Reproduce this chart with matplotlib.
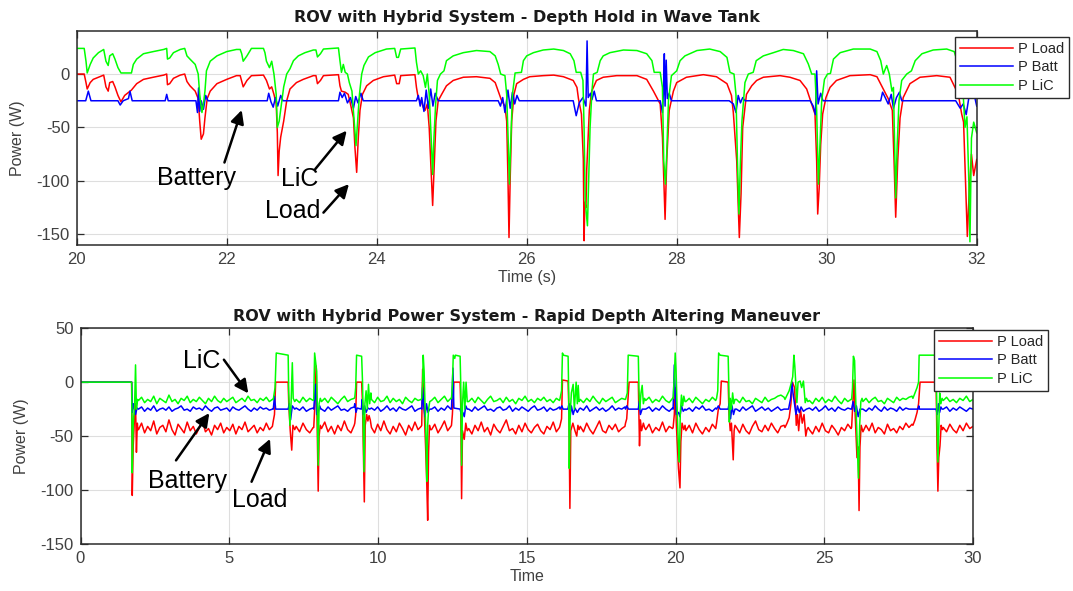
import numpy as np
import matplotlib
matplotlib.use("Agg")
import matplotlib.pyplot as plt

plt.rcParams['font.family'] = ['Liberation Sans', 'DejaVu Sans']
plt.rcParams['axes.unicode_minus'] = False

# ---------------- data: top chart (depth hold in wave tank) ----------------
top_load = [
    (20.00, 0), (20.10, 0), (20.124, -8), (20.14, -14), (20.18, -8), (20.22, -5), (20.29, -3), (20.36, -1),
    (20.39, -12), (20.42, -16), (20.44, -8), (20.48, -7), (20.51, -12), (20.55, -20), (20.59, -26), (20.64, -20),
    (20.73, -15), (20.80, -9), (20.89, -5), (21.02, -3), (21.16, -1), (21.20, 0), (21.21, -10), (21.24, -9),
    (21.29, -4), (21.38, -1), (21.44, 0), (21.47, -7), (21.51, -11), (21.58, -16), (21.62, -23), (21.64, -44),
    (21.66, -61), (21.69, -56), (21.71, -41), (21.74, -23), (21.78, -16), (21.87, -9), (22.00, -5), (22.13, -1.5),
    (22.18, -1.5), (22.22, -12), (22.27, -6), (22.33, -1.5), (22.49, -1), (22.53, -6), (22.57, -14), (22.60, -12),
    (22.63, -19), (22.66, -28), (22.675, -55), (22.685, -95), (22.70, -72), (22.72, -59), (22.76, -44), (22.80, -25),
    (22.844, -14), (22.93, -8), (23.02, -5), (23.155, -1.5), (23.19, -1.5), (23.21, -9), (23.25, -6), (23.29, -1.5),
    (23.49, -0.6), (23.51, -11), (23.53, -16), (23.58, -17), (23.62, -19), (23.65, -28), (23.69, -41), (23.71, -69),
    (23.733, -92), (23.755, -59), (23.777, -34), (23.81, -19), (23.866, -11), (23.955, -6), (24.09, -2.5), (24.24, -1),
    (24.266, -9), (24.30, -9), (24.32, -1.5), (24.51, -0.6), (24.53, -12.5), (24.555, -23), (24.60, -26.5), (24.62, -31),
    (24.645, -34), (24.675, -28), (24.70, -50), (24.73, -97), (24.746, -123), (24.77, -81), (24.79, -44), (24.82, -25),
    (24.866, -19), (24.93, -11), (25.02, -6), (25.155, -3), (25.33, -2.5), (25.51, -4), (25.58, -8), (25.62, -16),
    (25.666, -25), (25.71, -30), (25.733, -44), (25.75, -97), (25.764, -153), (25.78, -97), (25.80, -44), (25.83, -19),
    (25.866, -9), (25.956, -5), (26.04, -2.5), (26.22, -1.5), (26.36, -1), (26.49, -2.5), (26.62, -6), (26.67, -12.5),
    (26.69, -23), (26.73, -37.5), (26.755, -80), (26.765, -156), (26.775, -120), (26.79, -125), (26.80, -90), (26.835, -34),
    (26.867, -16), (26.93, -6), (27.02, -3), (27.20, -1.5), (27.47, -1.5), (27.60, -5), (27.69, -16), (27.78, -28),
    (27.81, -59), (27.83, -103), (27.845, -136), (27.867, -81), (27.90, -34), (27.956, -16), (28.0, -8), (28.13, -3),
    (28.355, -0.6), (28.53, -2.5), (28.67, -9), (28.73, -20), (28.755, -36), (28.80, -81), (28.835, -153), (28.858, -112),
    (28.88, -50), (28.93, -19), (29.0, -11), (29.066, -6), (29.155, -3), (29.378, -1.5), (29.51, -3), (29.644, -6),
    (29.733, -14), (29.80, -28), (29.844, -37.5), (29.866, -81), (29.88, -131), (29.90, -106), (29.92, -66), (29.946, -37.5),
    (29.99, -22), (30.044, -12.5), (30.13, -6), (30.31, -1.5), (30.58, -0.6), (30.67, -2.5), (30.755, -14), (30.82, -23),
    (30.875, -34), (30.898, -81), (30.92, -134), (30.947, -81), (30.978, -41), (31.02, -22), (31.11, -9), (31.244, -3),
    (31.467, -1.5), (31.644, -3), (31.755, -19), (31.80, -37.5), (31.825, -45), (31.85, -100), (31.875, -152), (31.90, -110),
    (31.93, -75), (31.96, -95), (32.0, -80),
]

top_batt = [
    (20.00, -25), (20.12, -25), (20.155, -16), (20.19, -25), (20.55, -25), (20.58, -29), (20.62, -25), (20.69, -23),
    (20.71, -16), (20.74, -25), (21.18, -25), (21.20, -19), (21.22, -25), (21.59, -25), (21.61, -36), (21.625, -13),
    (21.64, -35), (21.66, -25), (21.69, -33), (21.72, -20), (21.75, -25), (22.54, -25), (22.56, -18), (22.59, -26),
    (22.62, -31), (22.65, -22), (22.68, -30), (22.72, -20), (22.75, -25), (23.49, -25), (23.51, -17), (23.54, -22),
    (23.57, -18), (23.61, -27), (23.65, -22), (23.69, -32), (23.72, -21), (23.75, -27), (23.79, -18), (23.82, -25),
    (24.53, -25), (24.555, -20), (24.58, -30), (24.60, -22), (24.63, -35), (24.66, -15), (24.69, -32), (24.72, -14),
    (24.75, -30), (24.78, -18), (24.82, -25), (25.62, -25), (25.65, -30), (25.68, -22), (25.71, -36), (25.75, -15),
    (25.78, -32), (25.81, -17), (25.84, -28), (25.87, -20), (25.90, -25), (26.62, -25), (26.66, -39), (26.70, -27),
    (26.75, -22), (26.79, -30), (26.805, 31), (26.82, -22), (26.85, -18), (26.87, -24), (26.90, -16), (26.93, -25),
    (27.78, -25), (27.81, -36), (27.825, -15), (27.835, 19), (27.845, -30), (27.86, 13), (27.875, -23), (27.90, -18),
    (27.93, -25), (28.70, -25), (28.755, -28), (28.79, -36), (28.82, -20), (28.85, -27), (28.88, -22), (28.91, -25),
    (29.78, -25), (29.82, -30), (29.85, -38), (29.866, 3), (29.885, -28), (29.92, -18), (29.95, -25), (30.72, -25),
    (30.745, -17), (30.78, -22), (30.82, -28), (30.86, -19), (30.89, -32), (30.93, -22), (30.97, -17), (31.0, -25),
    (31.72, -25), (31.78, -32), (31.82, -28), (31.86, -38), (31.90, -20), (31.95, -14), (32.0, -30),
]

top_lic = [
    (20.00, 24), (20.10, 24), (20.124, 12), (20.14, 1), (20.18, 9), (20.22, 15), (20.29, 20), (20.36, 23),
    (20.39, 12), (20.42, 8), (20.44, 17), (20.48, 19), (20.51, 14), (20.55, 6), (20.59, 1), (20.73, 1),
    (20.755, 9), (20.80, 14), (20.89, 19), (21.02, 21), (21.16, 23), (21.20, 24), (21.21, 14), (21.24, 15),
    (21.29, 20), (21.38, 23), (21.44, 24), (21.47, 17), (21.51, 14), (21.58, 9), (21.62, 0), (21.64, -19),
    (21.67, -36), (21.69, -28), (21.71, -16), (21.73, 3), (21.78, 12), (21.87, 17), (22.00, 21), (22.13, 23),
    (22.18, 23), (22.20, 19), (22.22, 12), (22.27, 17), (22.33, 24), (22.49, 24), (22.51, 20), (22.53, 12),
    (22.57, 6), (22.60, 12), (22.63, 0), (22.66, -19), (22.675, -50), (22.70, -44), (22.73, -28), (22.76, -12),
    (22.80, 0), (22.844, 5), (22.89, 12.5), (22.955, 17), (23.044, 20), (23.155, 22.5), (23.19, 22.5), (23.21, 16),
    (23.25, 19), (23.29, 23.4), (23.49, 24.4), (23.51, 12.5), (23.53, 1.6), (23.555, 9), (23.58, 1.6), (23.61, 0),
    (23.635, -8), (23.67, -16), (23.70, -44), (23.724, -67), (23.746, -44), (23.77, -19), (23.80, 0), (23.83, 8),
    (23.89, 16), (23.98, 20), (24.13, 23.4), (24.24, 24), (24.266, 15.6), (24.29, 15.6), (24.32, 23.4), (24.51, 24.4),
    (24.53, 11), (24.555, 0), (24.586, 3), (24.62, -1.5), (24.65, -12.5), (24.675, 0), (24.70, -19), (24.73, -66),
    (24.746, -94), (24.764, -59), (24.786, -28), (24.81, -6), (24.85, 0), (24.897, 3), (24.93, 12.5), (25.02, 17),
    (25.155, 20), (25.33, 22), (25.51, 21), (25.58, 17), (25.62, 9), (25.653, 0), (25.71, -1.5), (25.733, -19),
    (25.755, -66), (25.77, -103), (25.786, -66), (25.81, -19), (25.845, 1), (25.93, 1.6), (25.956, 12.5), (26.0, 17),
    (26.09, 20), (26.22, 22.5), (26.36, 23.4), (26.49, 22), (26.58, 19), (26.63, 12.5), (26.66, 1.6), (26.72, 1.6),
    (26.75, -6), (26.765, -50), (26.78, -119), (26.81, -142), (26.827, -97), (26.845, -50), (26.87, -16), (26.89, 0),
    (26.94, 1.6), (26.98, 12.5), (27.02, 17), (27.11, 20), (27.29, 22.5), (27.47, 22), (27.60, 19), (27.67, 12.5),
    (27.70, 1.6), (27.78, 1.6), (27.81, -12.5), (27.827, -81), (27.85, -103), (27.867, -75), (27.89, -25), (27.93, -1.5),
    (28.0, 3), (28.045, 12.5), (28.11, 17), (28.27, 22), (28.44, 23.4), (28.58, 21), (28.67, 15.6), (28.71, 1.6),
    (28.764, 0), (28.79, -19), (28.81, -81), (28.83, -131), (28.85, -81), (28.87, -44), (28.91, -8), (28.955, 0),
    (29.02, 1.6), (29.06, 12.5), (29.155, 17), (29.29, 20), (29.42, 23), (29.555, 22), (29.69, 19), (29.755, 9.4),
    (29.80, 0), (29.844, 0), (29.866, -34), (29.89, -103), (29.91, -66), (29.933, -25), (29.97, -5), (30.01, 0),
    (30.05, 0.6), (30.09, 14), (30.18, 20), (30.355, 23.4), (30.58, 23.4), (30.67, 21), (30.72, 12.5), (30.755, 0),
    (30.80, 8), (30.835, 0), (30.87, -16), (30.89, -12.5), (30.906, -66), (30.92, -116), (30.94, -66), (30.964, -25),
    (31.0, -6), (31.067, 0), (31.13, 3), (31.18, 12.5), (31.27, 19), (31.42, 22.5), (31.60, 23.4), (31.70, 21),
    (31.755, 9), (31.787, 0), (31.82, -19), (31.844, -50), (31.87, -40), (31.895, -100), (31.91, -157), (31.93, -60),
    (31.96, -45), (32.0, -55),
]

# ---------------- data: bottom chart (rapid depth altering maneuver) ----------------
bot_segments = [(1.95, 6.45), (7.25, 7.82), (8.1, 9.2), (9.78, 11.45), (11.8, 12.45), (13.05, 16.1),
                (16.8, 18.3), (19.0, 19.9), (20.35, 21.35), (22.05, 23.65), (24.5, 25.9), (26.3, 27.95),
                (29.0, 30.0)]

bot_load_events = [
    (0, 0), (1.72, 0), (1.74, -105), (1.77, -60), (1.82, -30), (1.85, -20), (1.88, -65), (1.91, -38), (1.93, -44),
    (6.48, -36), (6.52, -30), (6.56, 0), (6.98, 0), (7.0, -20), (7.05, -45), (7.1, -63), (7.14, -40), (7.2, -44),
    (7.84, -42), (7.88, -20), (7.92, 15), (7.95, -30), (7.99, -101), (8.02, -50), (8.06, -40),
    (9.22, -38), (9.25, -30), (9.28, 0), (9.45, 0), (9.48, -20), (9.52, -80), (9.54, -111), (9.57, -40), (9.62, -30),
    (9.66, -36), (9.7, -31), (9.74, -35),
    (11.47, -40), (11.5, 12), (11.53, -10), (11.6, -60), (11.64, -95), (11.67, -128), (11.7, -65), (11.73, -40), (11.76, -44),
    (12.47, -40), (12.5, -30), (12.55, 0), (12.76, 0), (12.78, -20), (12.81, -108), (12.84, -45), (12.9, -53), (12.95, -38), (13.0, -45),
    (16.12, -40), (16.17, -34), (16.2, 2), (16.39, 1), (16.42, -30), (16.45, -117), (16.48, -45), (16.55, -38), (16.62, -45),
    (16.68, -50), (16.72, -40), (16.76, -44),
    (18.32, -38), (18.36, -34), (18.44, 0), (18.75, 0), (18.77, -30), (18.79, -59), (18.82, -35), (18.86, -45), (18.92, -38), (18.96, -42),
    (19.92, -42), (19.96, -30), (19.99, -5), (20.03, -40), (20.1, -80), (20.15, -98), (20.18, -55), (20.22, -38), (20.28, -44), (20.32, -40),
    (21.38, -38), (21.44, -25), (21.5, -20), (21.54, 1), (21.77, 0), (21.8, -30), (21.84, -45), (21.88, -38), (21.91, -55),
    (21.94, -72), (21.97, -45), (22.0, -40),
    (23.68, -42), (23.75, -38), (23.82, -33), (23.88, -20), (23.93, 0), (24.0, -5), (24.03, -20), (24.06, -40), (24.1, -30),
    (24.14, -45), (24.2, -25), (24.26, -38), (24.32, -30), (24.38, -50), (24.42, -44), (24.46, -42),
    (25.92, -42), (25.96, -20), (26.0, 2), (26.04, -30), (26.1, -70), (26.14, -60), (26.17, -119), (26.2, -60), (26.24, -40), (26.27, -43),
    (27.98, -40), (28.05, -35), (28.12, -28), (28.17, -20), (28.22, 0), (28.76, 0), (28.79, -60), (28.82, -101), (28.85, -70),
    (28.89, -59), (28.93, -40), (28.97, -44),
]

bot_batt_events = [
    (0, 0), (1.72, 0), (1.74, -28), (1.78, -20), (1.85, -30), (1.9, -24),
    (6.48, -25), (6.52, -13), (6.56, -25), (6.98, -25), (7.02, -20), (7.06, -35), (7.12, -22), (7.2, -25),
    (7.84, -25), (7.9, -2), (7.94, -30), (7.99, -28), (8.04, -22), (8.08, -25),
    (9.22, -20), (9.26, -28), (9.3, -24), (9.44, -25), (9.47, -16), (9.5, -30), (9.55, -22), (9.6, -28), (9.66, -24), (9.72, -25),
    (11.47, -25), (11.5, -5), (11.53, -20), (11.58, -32), (11.63, -20), (11.68, -28), (11.74, -25),
    (12.47, -25), (12.52, 13), (12.55, -24), (12.76, -25), (12.8, -30), (12.85, -28), (12.9, -32), (12.95, -22), (13.0, -25),
    (16.12, -25), (16.18, -22), (16.22, -25), (16.38, -25), (16.42, -20), (16.45, -34), (16.5, -22), (16.56, -30), (16.62, -24),
    (16.7, -28), (16.76, -25),
    (18.32, -25), (18.36, -22), (18.42, -25), (18.75, -25), (18.78, -18), (18.82, -30), (18.88, -25),
    (19.92, -25), (19.96, 16), (19.99, -10), (20.03, -30), (20.1, -28), (20.15, -32), (20.2, -22), (20.26, -27), (20.32, -25),
    (21.38, -25), (21.44, -22), (21.5, -25), (21.77, -25), (21.8, -20), (21.85, -34), (21.9, -22), (21.95, -30), (22.0, -25),
    (23.68, -25), (23.8, -25), (23.87, -15), (23.91, 0), (23.95, -10), (24.0, -20), (24.05, -30), (24.1, -22), (24.16, -28),
    (24.22, -23), (24.3, -27), (24.4, -25),
    (25.92, -25), (25.97, -18), (26.02, -27), (26.08, -22), (26.14, -32), (26.2, -25),
    (27.98, -25), (28.15, -25), (28.18, -22), (28.2, -25), (28.76, -25), (28.8, -30), (28.84, -20), (28.88, -28), (28.92, -23), (28.96, -25),
]

bot_lic_events = [
    (0, 0), (1.72, 0), (1.74, -84), (1.77, -40), (1.82, -20), (1.85, 16), (1.88, -25), (1.92, -16),
    (6.48, -16), (6.54, -5), (6.58, 27), (6.98, 25), (7.0, -10), (7.04, -40), (7.08, -18), (7.12, 18), (7.15, -15), (7.2, -18),
    (7.84, -16), (7.87, 27), (7.9, 20), (7.94, 10), (7.97, -40), (7.99, -77), (8.02, -20), (8.06, -15),
    (9.22, -14), (9.25, -5), (9.28, 25), (9.45, 24), (9.48, 0), (9.51, -50), (9.53, -83), (9.56, -20), (9.6, -8), (9.64, -25),
    (9.68, -2), (9.72, -20), (9.76, -10),
    (11.47, -15), (11.5, 0), (11.52, 25), (11.55, 10), (11.58, -20), (11.62, -60), (11.64, -92), (11.67, -40), (11.7, -25), (11.74, -18),
    (12.47, -15), (12.5, -3), (12.53, 25), (12.58, 22), (12.6, 25), (12.76, 24), (12.78, 0), (12.81, -77), (12.84, -20), (12.88, 0),
    (12.92, -25), (12.96, 0), (13.0, -18),
    (16.12, -15), (16.17, -8), (16.2, 27), (16.23, 25), (16.39, 24), (16.41, -10), (16.43, -80), (16.46, -30), (16.5, -10),
    (16.56, -2), (16.6, -25), (16.66, 0), (16.7, -20), (16.73, -3), (16.76, -18),
    (18.32, -16), (18.38, -10), (18.41, 25), (18.75, 24), (18.77, -5), (18.8, -25), (18.84, -10), (18.88, -3), (18.92, -20), (18.96, -15),
    (19.92, -15), (19.96, 5), (19.99, 27), (20.02, 10), (20.06, -30), (20.1, -60), (20.13, -74), (20.16, -30), (20.2, -12),
    (20.24, -22), (20.28, -13), (20.32, -18),
    (21.38, -15), (21.42, -8), (21.45, 27), (21.5, 25), (21.77, 24), (21.79, 0), (21.81, -37), (21.84, -15), (21.88, -25),
    (21.92, -10), (21.96, -20), (22.0, -16),
    (23.68, -16), (23.75, -12), (23.82, -8), (23.88, -2), (23.94, 5), (23.98, 25), (24.01, 15), (24.05, -5), (24.08, -19),
    (24.12, 0), (24.19, 1), (24.24, -5), (24.3, 1), (24.36, -19), (24.4, -15), (24.45, -18),
    (25.92, -16), (25.95, -5), (25.98, 24), (26.02, 20), (26.05, -10), (26.1, -50), (26.15, -89), (26.19, -40), (26.23, -18), (26.27, -15),
    (27.98, -15), (28.05, -10), (28.12, -5), (28.17, 0), (28.19, 25), (28.76, 25), (28.78, -20), (28.82, -74), (28.85, -40),
    (28.88, -10), (28.92, -20), (28.96, -15),
]

# noisy steady-state readings between events, one list per segment
bot_load_noise = [
    [-44, -38, -47, -41, -45, -36, -48, -42, -40, -46, -35, -44, -49, -39, -43, -47, -37, -45, -41, -48,
     -42, -36, -46, -43, -49, -40, -44, -38, -47, -42, -45, -39, -48, -41, -44, -37, -46, -43, -40, -47,
     -42, -45, -38, -44, -41],
    [-41, -46, -38, -44, -47, -42],
    [-43, -37, -46, -41, -48, -40, -45, -36, -44, -47, -40],
    [-42, -47, -39, -45, -36, -44, -48, -41, -46, -38, -43, -49, -40, -45, -37, -44, -41],
    [-44, -39, -47, -42, -36, -45, -41],
    [-43, -48, -40, -45, -37, -46, -42, -49, -39, -44, -47, -41, -35, -45, -43, -48, -40, -46, -38, -44,
     -47, -42, -39, -45, -48, -41, -44, -37, -46, -42],
    [-41, -46, -38, -44, -48, -42, -36, -45, -47, -40, -44, -39, -46, -43, -41],
    [-44, -39, -47, -42, -45, -37, -46, -41, -43],
    [-45, -40, -47, -38, -44, -48, -42, -46, -39, -43],
    [-42, -47, -39, -45, -48, -41, -36, -44, -46, -40, -45, -38, -43, -47, -41, -40],
    [-44, -48, -41, -46, -38, -45, -47, -40, -44, -49, -42, -45, -39, -43],
    [-46, -40, -45, -38, -47, -42, -44, -48, -39, -45, -43, -47, -41, -44, -38, -42, -39],
    [-42, -46, -39, -44, -47, -40, -45, -38, -43, -41],
]
bot_batt_noise = [
    [-25, -23, -27, -24, -26, -22, -27, -25, -24, -26, -23, -27, -25, -24, -22, -26, -25, -27, -23, -25,
     -24, -26, -22, -25, -27, -24, -23, -26, -25, -24, -27, -23, -25, -26, -24, -22, -25, -27, -24, -26,
     -23, -25, -24, -26, -25],
    [-24, -26, -23, -27, -25, -24],
    [-25, -27, -23, -26, -24, -22, -26, -25, -27, -24, -23],
    [-24, -26, -23, -27, -25, -22, -26, -24, -27, -23, -25, -26, -24, -22, -27, -25, -24],
    [-25, -23, -27, -24, -26, -22, -25],
    [-25, -27, -23, -26, -24, -22, -26, -25, -27, -24, -23, -26, -25, -22, -27, -24, -26, -23, -25, -27,
     -24, -22, -26, -25, -23, -27, -24, -26, -25, -23],
    [-24, -26, -22, -27, -25, -23, -26, -24, -27, -25, -22, -26, -24, -25, -23],
    [-25, -23, -27, -24, -26, -22, -25, -27, -24],
    [-26, -24, -27, -23, -25, -22, -26, -25, -27, -24],
    [-25, -27, -23, -26, -24, -22, -27, -25, -23, -26, -24, -27, -25, -23, -26, -25],
    [-24, -26, -23, -27, -25, -22, -26, -24, -27, -23, -25, -26, -24, -25],
    [-25, -27, -24, -26, -22, -25, -27, -23, -26, -24, -25, -27, -23, -26, -24, -25, -25],
    [-25, -23, -27, -24, -26, -23, -25, -27, -24, -25],
]
bot_lic_noise = [
    [-17, -14, -19, -16, -18, -13, -20, -15, -17, -19, -12, -18, -16, -20, -15, -17, -13, -19, -16, -18,
     -14, -17, -20, -15, -18, -13, -17, -19, -15, -18, -16, -14, -19, -17, -15, -18, -13, -17, -16, -19,
     -15, -17, -14, -18, -16],
    [-16, -19, -14, -18, -15, -17],
    [-18, -15, -19, -14, -17, -20, -16, -13, -18, -16, -15],
    [-16, -19, -14, -18, -17, -13, -19, -15, -18, -16, -20, -14, -17, -19, -15, -17, -16],
    [-17, -14, -19, -16, -13, -18, -15],
    [-18, -15, -19, -14, -17, -20, -16, -13, -18, -17, -15, -19, -14, -18, -16, -20, -15, -17, -13, -18,
     -16, -19, -15, -17, -14, -18, -16, -19, -15, -17],
    [-16, -19, -15, -18, -13, -17, -20, -15, -18, -16, -14, -19, -17, -15, -16],
    [-17, -14, -19, -16, -18, -13, -17, -19, -15],
    [-18, -15, -19, -14, -17, -20, -16, -18, -14, -17],
    [-16, -19, -14, -18, -17, -20, -15, -17, -19, -14, -18, -16, -15, -13, -12, -14],
    [-17, -20, -15, -18, -14, -19, -16, -18, -13, -17, -20, -15, -18, -16],
    [-18, -15, -19, -16, -14, -18, -17, -20, -15, -17, -19, -14, -17, -15, -16, -14, -13],
    [-17, -14, -18, -16, -19, -15, -17, -13, -18, -16],
]

top_xticks = [20, 22, 24, 26, 28, 30, 32]
top_yticks = [-150, -100, -50, 0]
bot_xticks = [0, 5, 10, 15, 20, 25, 30]
bot_yticks = [-150, -100, -50, 0, 50]
series_labels = ['P Load', 'P Batt', 'P LiC']
series_colors = ['#ff0000', '#0000ff', '#00ff00']


def pairs(seq):
    a = np.array(seq, dtype=float)
    return a[:, 0], a[:, 1]


def assemble(events, noise):
    t, p = pairs(events)
    ts, ps = [t], [p]
    for (s, e), vals in zip(bot_segments, noise):
        ts.append(np.linspace(s, e, len(vals)))
        ps.append(np.array(vals, dtype=float))
    t = np.concatenate(ts)
    p = np.concatenate(ps)
    order = np.argsort(t, kind='stable')
    return t[order], p[order]


W, H = 1073, 591
fig = plt.figure(figsize=(W / 100, H / 100), dpi=100)

ax1 = fig.add_axes([76.7 / W, 1 - 245 / H, 900 / W, 213.7 / H])
ax2 = fig.add_axes([80.5 / W, 1 - 544 / H, 892.5 / W, 215.8 / H])

spine_c = '#2b2b2b'
label_c = '#404040'
title_font = dict(family=['DejaVu Sans'], fontsize=11.5, fontweight='bold', color='#1a1a1a')

for ax in (ax1, ax2):
    ax.grid(True, color='#dedede', linewidth=0.8)
    ax.set_axisbelow(True)
    for s in ax.spines.values():
        s.set_color(spine_c)
        s.set_linewidth(1.1)
    ax.tick_params(direction='in', top=True, right=True, length=5, width=0.9,
                   color=spine_c, labelcolor=label_c, labelsize=12, pad=5)
ax1.set_ylabel('Power (W)', fontsize=11.5, color=label_c, labelpad=8)
ax2.set_ylabel('Power (W)', fontsize=11.5, color=label_c, labelpad=8)

# top chart
top_series = [top_load, top_batt, top_lic]
for data, lab, col in zip(top_series, series_labels, series_colors):
    t, p = pairs(data)
    ax1.plot(t, p, color=col, linewidth=1.1, label=lab)
ax1.set_xlim(20, 32)
ax1.set_ylim(-160, 40)
ax1.set_xticks(top_xticks)
ax1.set_yticks(top_yticks)
ax1.set_xlabel('Time (s)', fontsize=11.5, color=label_c, labelpad=2)
ax1.set_title('ROV with Hybrid System - Depth Hold in Wave Tank', pad=7, **title_font)

# bottom chart
bot_series = [(bot_load_events, bot_load_noise), (bot_batt_events, bot_batt_noise),
              (bot_lic_events, bot_lic_noise)]
for (ev, nz), lab, col in zip(bot_series, series_labels, series_colors):
    t, p = assemble(ev, nz)
    ax2.plot(t, p, color=col, linewidth=1.1, label=lab)
ax2.set_xlim(0, 30)
ax2.set_ylim(-150, 50)
ax2.set_xticks(bot_xticks)
ax2.set_yticks(bot_yticks)
ax2.set_xlabel('Time', fontsize=11.5, color=label_c, labelpad=2)
ax2.set_title('ROV with Hybrid Power System - Rapid Depth Altering Maneuver', pad=5, **title_font)

leg_kw = dict(fontsize=10.5, handlelength=3.6, handletextpad=0.35, labelspacing=0.3,
              borderpad=0.35, borderaxespad=0, fancybox=False, framealpha=1,
              edgecolor=spine_c, loc='upper left', bbox_transform=fig.transFigure)
lg1 = ax1.legend(bbox_to_anchor=(955 / W, 1 - 37 / H), **leg_kw)
lg2 = ax2.legend(bbox_to_anchor=(934 / W, 1 - 330 / H), **leg_kw)
for lg in (lg1, lg2):
    lg.get_frame().set_linewidth(1.0)
    for txt in lg.get_texts():
        txt.set_color('#262626')

# annotations
arrow_kw = dict(arrowstyle='-|>', color='black', lw=1.8, mutation_scale=20, shrinkA=0, shrinkB=0)
txt_kw = dict(fontsize=18, color='black', ha='left', va='baseline')

ax1.text(21.07, -104, 'Battery', **txt_kw)
ax1.annotate('', xy=(22.2, -33.7), xytext=(21.97, -82.8), arrowprops=arrow_kw)
ax1.text(22.72, -105, 'LiC', **txt_kw)
ax1.annotate('', xy=(23.6, -53), xytext=(23.18, -89), arrowprops=arrow_kw)
ax1.text(22.51, -135, 'Load', **txt_kw)
ax1.annotate('', xy=(23.63, -103), xytext=(23.29, -129.7), arrowprops=arrow_kw)

ax2.text(3.44, 13, 'LiC', **txt_kw)
ax2.annotate('', xy=(5.64, -10.4), xytext=(4.82, 20.8), arrowprops=arrow_kw)
ax2.text(2.26, -98.5, 'Battery', **txt_kw)
ax2.annotate('', xy=(4.33, -28.7), xytext=(3.21, -72.5), arrowprops=arrow_kw)
ax2.text(5.1, -116, 'Load', **txt_kw)
ax2.annotate('', xy=(6.37, -52.6), xytext=(5.75, -92.3), arrowprops=arrow_kw)

fig.savefig('out.png', dpi=100, facecolor='white')
